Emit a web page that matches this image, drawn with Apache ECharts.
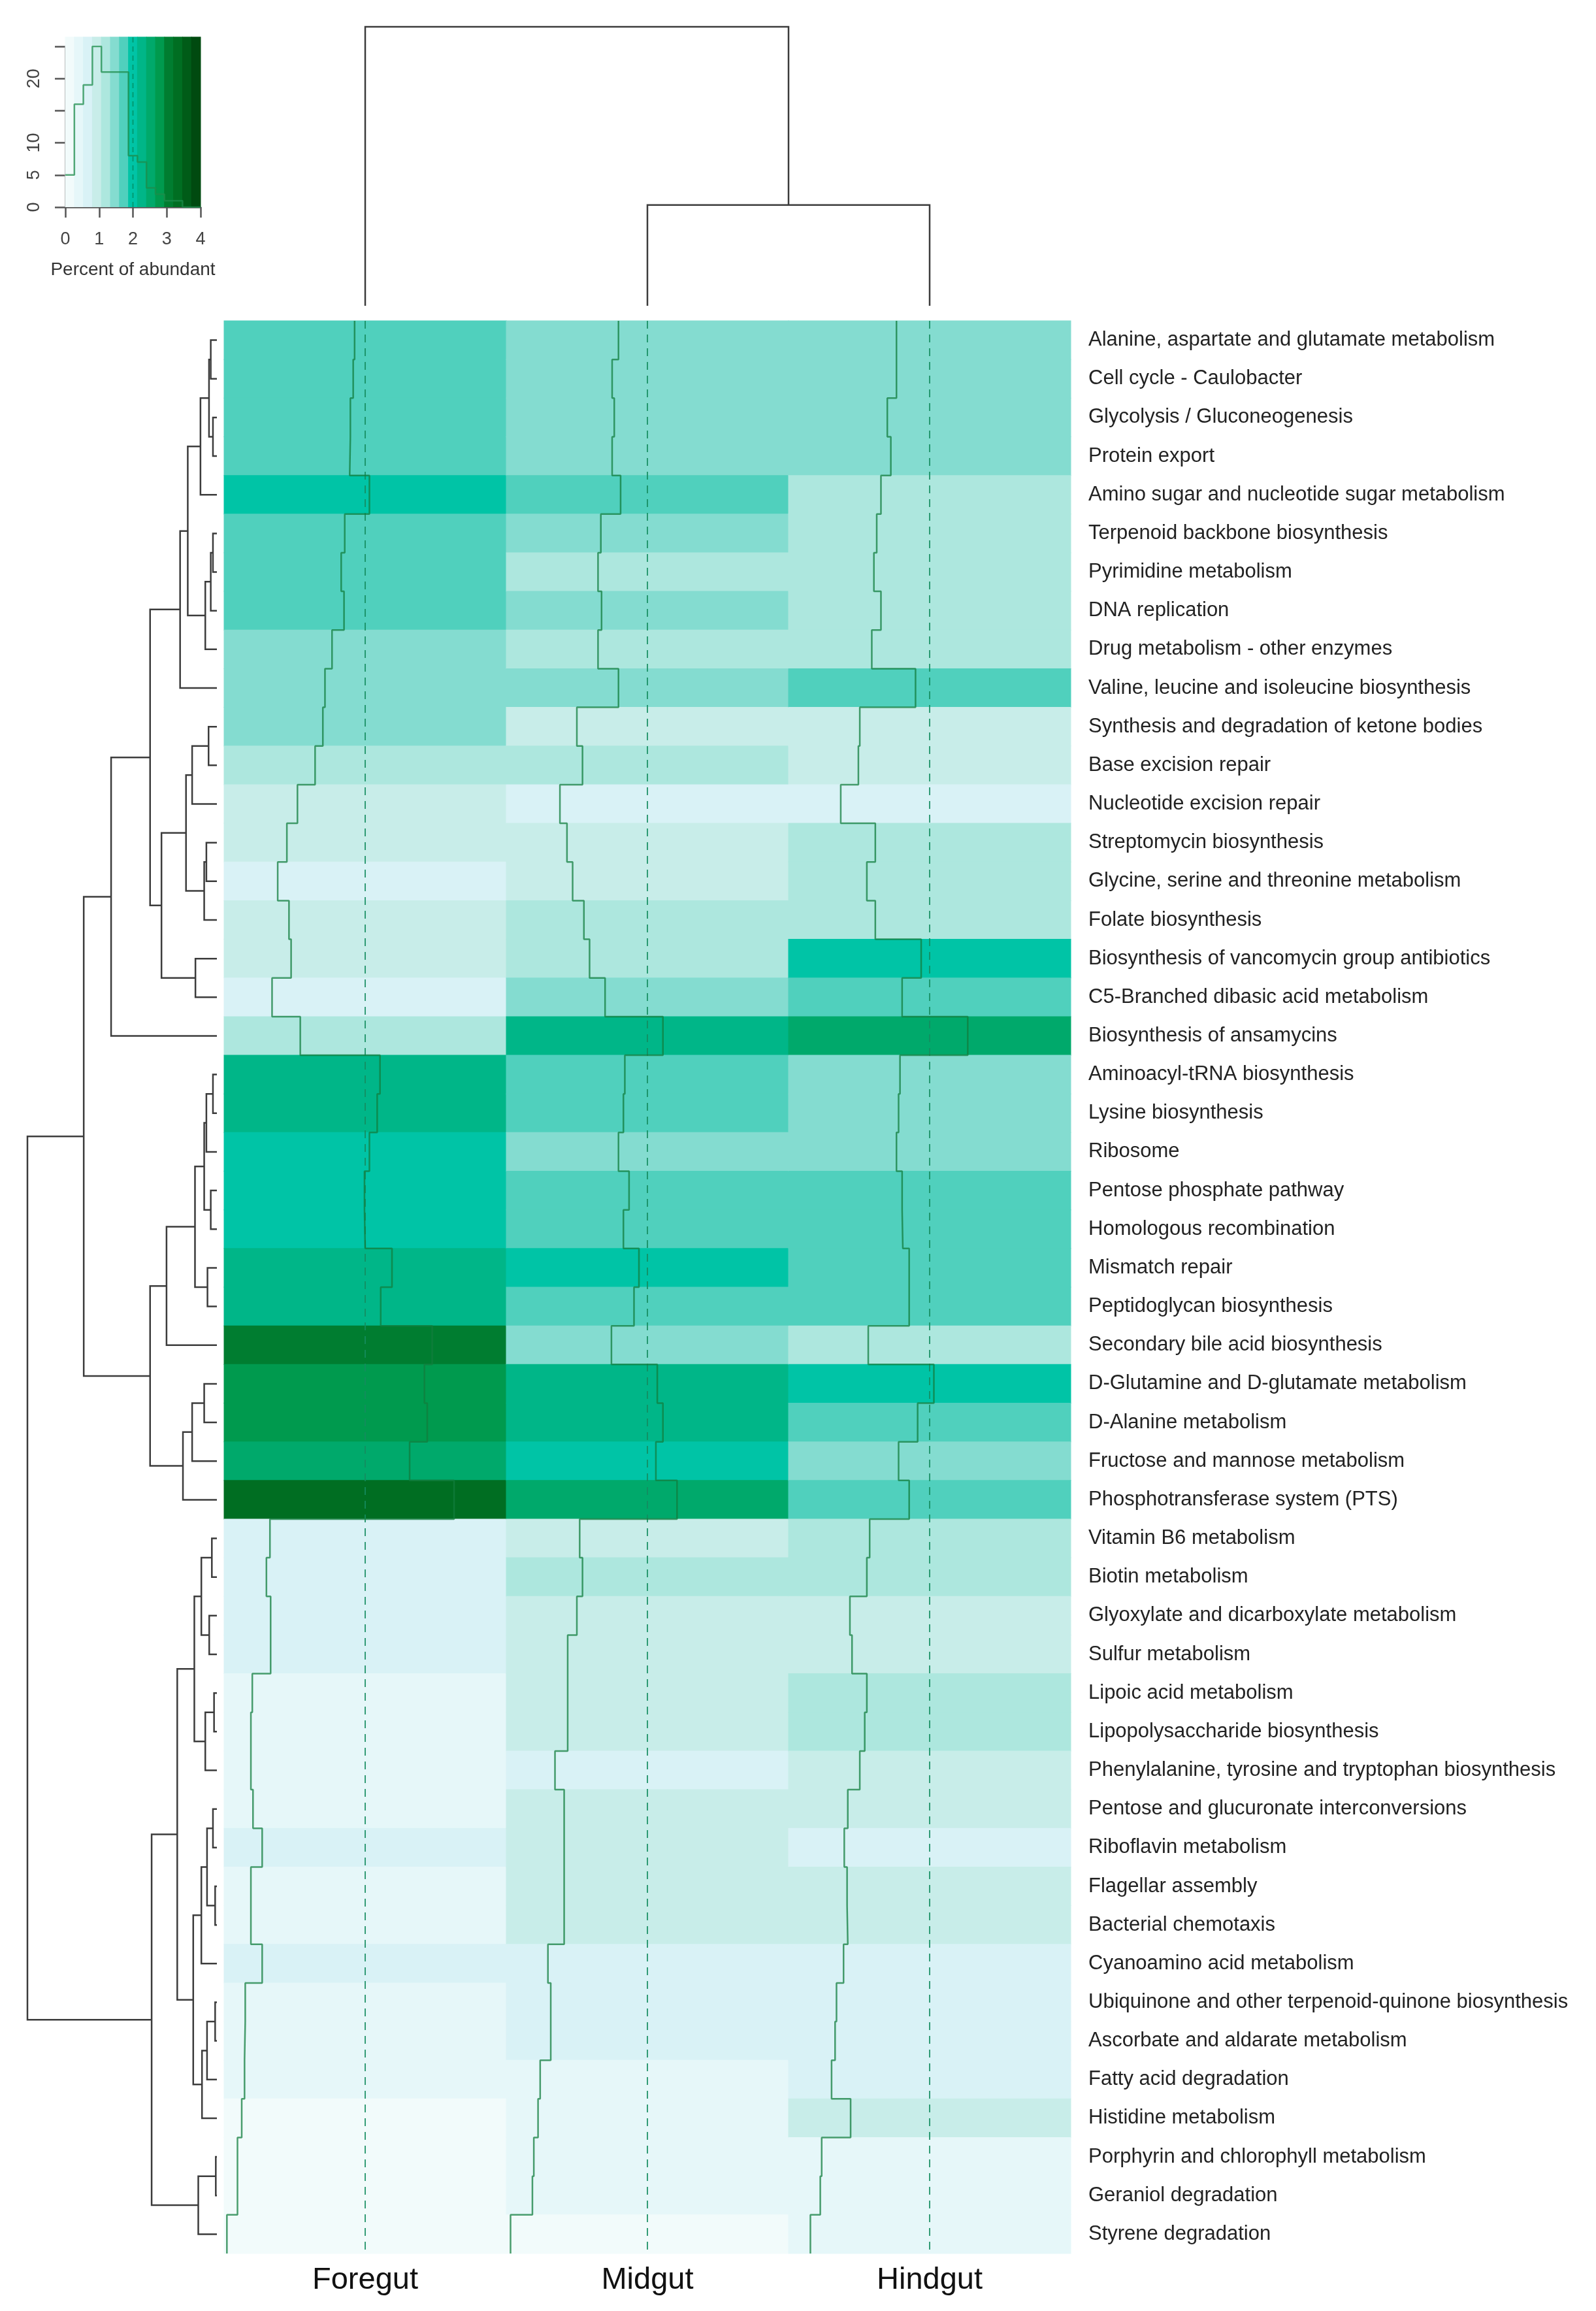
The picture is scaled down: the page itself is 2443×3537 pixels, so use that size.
<!DOCTYPE html>
<html>
<head>
<meta charset="utf-8">
<script src="https://cdn.jsdelivr.net/npm/echarts@6/dist/echarts.min.js"></script>
<style>
html,body{margin:0;padding:0;background:#ffffff;}
#main{width:2443px;height:3537px;}
</style>
</head>
<body>
<div id="main"></div>
<script>
// ---------------- DATA ----------------
const pathways = [
  'Alanine, aspartate and glutamate metabolism','Cell cycle - Caulobacter','Glycolysis / Gluconeogenesis','Protein export',
  'Amino sugar and nucleotide sugar metabolism','Terpenoid backbone biosynthesis','Pyrimidine metabolism','DNA replication',
  'Drug metabolism - other enzymes','Valine, leucine and isoleucine biosynthesis','Synthesis and degradation of ketone bodies',
  'Base excision repair','Nucleotide excision repair','Streptomycin biosynthesis','Glycine, serine and threonine metabolism',
  'Folate biosynthesis','Biosynthesis of vancomycin group antibiotics','C5-Branched dibasic acid metabolism',
  'Biosynthesis of ansamycins','Aminoacyl-tRNA biosynthesis','Lysine biosynthesis','Ribosome','Pentose phosphate pathway',
  'Homologous recombination','Mismatch repair','Peptidoglycan biosynthesis','Secondary bile acid biosynthesis',
  'D-Glutamine and D-glutamate metabolism','D-Alanine metabolism','Fructose and mannose metabolism',
  'Phosphotransferase system (PTS)','Vitamin B6 metabolism','Biotin metabolism','Glyoxylate and dicarboxylate metabolism',
  'Sulfur metabolism','Lipoic acid metabolism','Lipopolysaccharide biosynthesis',
  'Phenylalanine, tyrosine and tryptophan biosynthesis','Pentose and glucuronate interconversions','Riboflavin metabolism',
  'Flagellar assembly','Bacterial chemotaxis','Cyanoamino acid metabolism',
  'Ubiquinone and other terpenoid-quinone biosynthesis','Ascorbate and aldarate metabolism','Fatty acid degradation',
  'Histidine metabolism','Porphyrin and chlorophyll metabolism','Geraniol degradation','Styrene degradation'
];
const samples = ['Foregut', 'Midgut', 'Hindgut'];

const foregut = [1.85,1.83,1.79,1.78,2.06,1.71,1.66,1.70,1.53,1.43,
                 1.40,1.29,1.04,0.89,0.76,0.92,0.95,0.68,1.08,2.21,
                 2.17,2.06,1.99,2.00,2.38,2.22,2.95,2.84,2.88,2.63,
                 3.26,0.65,0.60,0.66,0.66,0.40,0.38,0.38,0.41,0.54,
                 0.38,0.38,0.54,0.30,0.29,0.29,0.25,0.19,0.19,0.04];
const midgut  = [1.59,1.50,1.53,1.50,1.62,1.34,1.30,1.35,1.30,1.59,
                 1.00,1.08,0.76,0.86,0.94,1.10,1.18,1.40,2.22,1.68,
                 1.66,1.59,1.74,1.66,1.88,1.81,1.49,2.14,2.22,2.12,
                 2.42,1.04,1.08,1.00,0.87,0.87,0.87,0.69,0.82,0.82,
                 0.82,0.82,0.59,0.63,0.63,0.48,0.45,0.39,0.37,0.06];
const hindgut = [1.53,1.53,1.40,1.45,1.31,1.25,1.21,1.31,1.18,1.80,
                 1.01,0.99,0.74,1.23,1.11,1.23,1.88,1.61,2.54,1.58,
                 1.56,1.53,1.61,1.62,1.71,1.71,1.13,2.06,1.83,1.56,
                 1.71,1.15,1.11,0.87,0.90,1.11,1.08,1.01,0.84,0.79,
                 0.83,0.84,0.78,0.68,0.66,0.61,0.88,0.47,0.45,0.31];

const colorBreaks = [0,0.267,0.533,0.8,1.067,1.333,1.6,1.867,2.133,2.4,2.667,2.933,3.2,3.467,3.733,4];
const binColors = ['#f2fbfb','#e6f7f9','#d9f2f6','#c8ede9','#ade7de','#84dcd0','#50d0bd','#00c4a6',
                   '#00b688','#00a96b','#009a4e','#007d30','#006e22','#005c18','#004a10'];
const histCounts = [5,16,19,25,21,21,21,8,7,3,2,1,1,0,0];
const keyXTicks = ['0','1','2','3','4'];
const keyYTickLabels = ['0','5','10','','20',''];
const scaleMax = 4;
const vlineValue = 2;
const keyTop = 26.5;

// row dendrogram: [left, right, height]; leaves are 1-based row numbers
const rowTree = [
  [
    [
      [
        [[[[1,2,0.28],[3,4,0.18],0.36],5,0.75],[[[6,7,0.18],8,0.28],9,0.53],1.33],
        10, 1.68
      ],
      [[[[11,12,0.38],13,1.13],[[14,15,0.48],16,0.58],1.41],[17,18,0.98],2.53],
      3.05
    ],
    19, 4.83
  ],
  [
    [[[[[20,21,0.18],22,0.48],[23,24,0.28],0.58],[25,26,0.43],1.00],27,2.30],
    [[[28,29,0.58],30,1.13],31,1.55],
    3.05
  ],
  6.08
];
const rowTreeRoot = [
  rowTree,
  [
    [
      [[[32,33,0.23],[34,35,0.35],0.71],[[36,37,0.13],38,0.53],1.03],
      [[[[39,40,0.18],[41,42,0.08],0.45],43,0.71],[[[44,45,0.08],46,0.45],47,0.68],1.08],
      1.81
    ],
    [[48,49,0.05],50,0.85],
    2.98
  ],
  8.65
];
const colTree = [1, [2, 3, 1.3], 3.6];

// ---------------- DERIVED ----------------
const columns = [foregut, midgut, hindgut];
const nRows = pathways.length;
const cellData = [];
columns.forEach((vals, c) => vals.forEach((v, r) => cellData.push([c, r, v])));

function layoutTree(node, segs) {
  if (typeof node === 'number') return { pos: node - 0.5, h: 0 };
  const a = layoutTree(node[0], segs), b = layoutTree(node[1], segs);
  segs.push([a.pos, a.h, b.pos, b.h, node[2]]);
  return { pos: (a.pos + b.pos) / 2, h: node[2] };
}
const rowSegs = []; layoutTree(rowTreeRoot, rowSegs);
const colSegs = []; layoutTree(colTree, colSegs);

const traceSeries = columns.map((vals, c) => {
  const pts = [];
  vals.forEach((v, r) => { pts.push([c + v / scaleMax, r]); pts.push([c + v / scaleMax, r + 1]); });
  return {
    type: 'line', xAxisIndex: 0, yAxisIndex: 0, data: pts, symbol: 'none', z: 5,
    lineStyle: { color: 'rgba(18,125,62,0.75)', width: 2.5 }, silent: true
  };
});
const vlineSeries = columns.map((vals, c) => ({
  type: 'line', xAxisIndex: 0, yAxisIndex: 0, symbol: 'none', z: 4, silent: true,
  data: [[c + vlineValue / scaleMax, 0], [c + vlineValue / scaleMax, nRows]],
  lineStyle: { color: 'rgba(20,140,95,0.85)', width: 2, type: [12, 9] }
}));

const bandData = binColors.map((col, i) => [colorBreaks[i], colorBreaks[i + 1], (colorBreaks[i] + colorBreaks[i + 1]) / 2]);
const histPts = [];
histCounts.forEach((n, i) => { histPts.push([colorBreaks[i], n]); histPts.push([colorBreaks[i + 1], n]); });

const pieces = binColors.map((col, i) => i === binColors.length - 1
  ? { gte: colorBreaks[i], lte: colorBreaks[i + 1] + 1, color: col }
  : { gte: colorBreaks[i], lt: colorBreaks[i + 1], color: col });

const dendStyle = { stroke: '#3c3c3c', lineWidth: 2.5, fill: 'none' };
const FONT = '"Liberation Sans", Arial, Helvetica, sans-serif';

// ---------------- CHART ----------------
const chart = echarts.init(document.getElementById('main'), null, { renderer: 'canvas' });
chart.setOption({
  animation: false,
  backgroundColor: '#ffffff',
  textStyle: { fontFamily: FONT },
  grid: [
    { left: 343, top: 491, width: 1296, height: 2958 },   // heatmap
    { left: 42, top: 491, width: 290, height: 2958 },     // row dendrogram
    { left: 343, top: 41, width: 1296, height: 427 },     // column dendrogram
    { left: 100, top: 71, width: 207, height: 246 }       // colour key
  ],
  xAxis: [
    { gridIndex: 0, type: 'value', min: 0, max: 3, show: false, position: 'top' },
    { gridIndex: 0, type: 'category', data: samples, position: 'bottom',
      axisLine: { show: false }, axisTick: { show: false },
      axisLabel: { fontSize: 47, color: '#111', margin: 18, fontFamily: FONT } },
    { gridIndex: 1, type: 'value', min: 0, max: 8.65, inverse: true, show: false },
    { gridIndex: 2, type: 'value', min: 0, max: 3, show: false },
    { gridIndex: 3, type: 'value', min: 0, max: 4, interval: 1, splitLine: { show: false },
      axisLine: { show: true, onZero: false, lineStyle: { color: '#555', width: 2.5 } },
      axisTick: { show: true, length: 16, lineStyle: { color: '#555', width: 2.5 } },
      axisLabel: { fontSize: 27, color: '#444', margin: 36, fontFamily: FONT,
        formatter: v => keyXTicks[Math.round(v)] },
      name: 'Percent of abundant', nameLocation: 'middle', nameGap: 82,
      nameTextStyle: { fontSize: 28, color: '#333', fontFamily: FONT } }
  ],
  yAxis: [
    { gridIndex: 0, type: 'value', min: 0, max: nRows, inverse: true, show: false, position: 'left' },
    { gridIndex: 0, type: 'category', data: pathways, inverse: true, position: 'right',
      axisLine: { show: false }, axisTick: { show: false },
      axisLabel: { interval: 0, fontSize: 31, color: '#222', margin: 27, fontFamily: FONT } },
    { gridIndex: 1, type: 'value', min: 0, max: nRows, inverse: true, show: false },
    { gridIndex: 2, type: 'value', min: 0, max: 3.6, show: false },
    { gridIndex: 3, type: 'value', min: 0, max: 25, interval: 5, splitLine: { show: false },
      axisLine: { show: true, onZero: false, lineStyle: { color: '#555', width: 2.5 } },
      axisTick: { show: true, length: 16, lineStyle: { color: '#555', width: 2.5 } },
      axisLabel: { fontSize: 27, color: '#444', margin: 34, rotate: 90, fontFamily: FONT,
        formatter: v => keyYTickLabels[Math.round(v / 5)] || '' } }
  ],
  visualMap: {
    type: 'piecewise', show: false, dimension: 2, seriesIndex: [0, 1], pieces: pieces
  },
  series: [
    { // heatmap cells
      type: 'custom', xAxisIndex: 0, yAxisIndex: 0, data: cellData, encode: { x: 0, y: 1 }, z: 2, silent: true,
      renderItem: function (params, api) {
        const p0 = api.coord([api.value(0), api.value(1)]);
        const p1 = api.coord([api.value(0) + 1, api.value(1) + 1]);
        return { type: 'rect',
          shape: { x: Math.min(p0[0], p1[0]) - 0.5, y: Math.min(p0[1], p1[1]) - 0.5,
                   width: Math.abs(p1[0] - p0[0]) + 1, height: Math.abs(p1[1] - p0[1]) + 1 },
          style: { fill: api.visual('color') } };
      }
    },
    { // key colour bands
      type: 'custom', xAxisIndex: 4, yAxisIndex: 4, data: bandData, encode: { x: [0, 1] }, z: 1, silent: true, clip: false,
      renderItem: function (params, api) {
        const p0 = api.coord([api.value(0), keyTop]);
        const p1 = api.coord([api.value(1), 0]);
        return { type: 'rect',
          shape: { x: p0[0] - 0.5, y: p0[1], width: p1[0] - p0[0] + 1, height: p1[1] - p0[1] },
          style: { fill: api.visual('color') } };
      }
    },
    { // key histogram
      type: 'line', xAxisIndex: 4, yAxisIndex: 4, data: histPts, symbol: 'none', z: 5, silent: true,
      lineStyle: { color: 'rgba(30,140,75,0.75)', width: 2.5 }
    },
    { // key dashed line
      type: 'line', xAxisIndex: 4, yAxisIndex: 4, symbol: 'none', z: 4, silent: true, clip: false,
      data: [[vlineValue, 0], [vlineValue, keyTop]],
      lineStyle: { color: 'rgba(0,150,110,0.9)', width: 2, type: [8, 6] }
    },
    { // row dendrogram
      type: 'custom', xAxisIndex: 2, yAxisIndex: 2, data: rowSegs, silent: true, clip: false,
      renderItem: function (params, api) {
        const aPos = api.value(0), aH = api.value(1), bPos = api.value(2), bH = api.value(3), h = api.value(4);
        const pts = [[aH, aPos], [h, aPos], [h, bPos], [bH, bPos]].map(p => api.coord(p));
        return { type: 'polyline', shape: { points: pts }, style: dendStyle };
      }
    },
    { // column dendrogram
      type: 'custom', xAxisIndex: 3, yAxisIndex: 3, data: colSegs, silent: true, clip: false,
      renderItem: function (params, api) {
        const aPos = api.value(0), aH = api.value(1), bPos = api.value(2), bH = api.value(3), h = api.value(4);
        const pts = [[aPos, aH], [aPos, h], [bPos, h], [bPos, bH]].map(p => api.coord(p));
        return { type: 'polyline', shape: { points: pts }, style: dendStyle };
      }
    }
  ].concat(vlineSeries, traceSeries)
});
</script>
</body>
</html>
